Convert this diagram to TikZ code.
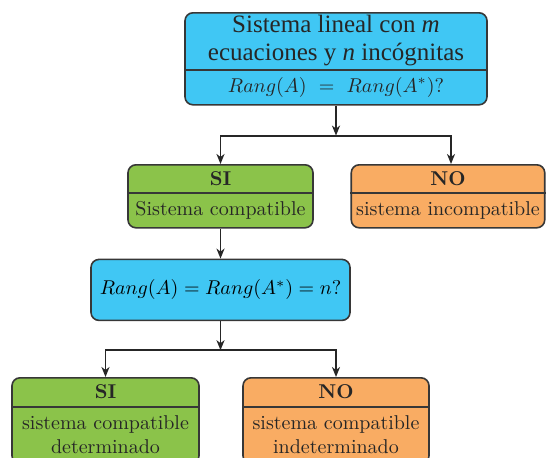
\documentclass[tikz,border=0pt]{standalone}
\usepackage{fontspec}
\usepackage{amsmath}
\usepackage{tikz}
\usetikzlibrary{positioning,arrows.meta}

\newfontfamily\titlefont{Liberation Serif}
\definecolor{skyblue}{RGB}{64,199,244}
\definecolor{leafgreen}{RGB}{139,195,74}
\definecolor{softorange}{RGB}{249,172,99}
\definecolor{edgegray}{RGB}{55,55,55}

\begin{document}
\begin{tikzpicture}[
			x=0.5pt, y=-0.5pt,
			block/.style={draw=edgegray, line width=0.8pt, rectangle, rounded corners=4pt, align=center},
			divider/.style={draw=edgegray, line width=0.8pt},
			label/.style={align=center, inner sep=0pt, text=black!85},
			arrow/.style={draw=black!85, line width=0.9pt, -{Stealth[length=5pt,width=4pt,inset=1.5pt]}}
			]
			
			% frame of the picture
			\clip (0,0) rectangle (546,457);
			
			% Question box
			\node[block, fill=skyblue, minimum width=151pt, minimum height=46pt, anchor=north] (sys) at (336,12) {};
			\draw[divider] ([shift={(0,58)}]sys.north west) -- ([shift={(0,58)}]sys.north east);
			\node[label, font=\titlefont\fontsize{12.5}{14}\selectfont] (sys_title) at ([shift={(0,29)}]sys.north) {Sistema lineal con \textit{m}\\ecuaciones y \textit{n} incógnitas};
			\node[label] (sys_rank) at ([shift={(0,75)}]sys.north) {$Rang(A)\ =\ Rang(A^*)?$};
			
			% First answers
			\node[block, fill=leafgreen, minimum width=92.5pt, minimum height=31.5pt, anchor=north] (si1) at (220.5,164) {};
			\draw[divider] ([shift={(0,29)}]si1.north west) -- ([shift={(0,29)}]si1.north east);
			\node[label, font=\bfseries] (si1_head) at ([shift={(0,14.5)}]si1.north) {SI};
			\node[label] (si1_text) at ([shift={(0,46)}]si1.north) {Sistema compatible};
			
			\node[block, fill=softorange, minimum width=96.75pt, minimum height=31.5pt, anchor=north] (no1) at (448,164) {};
			\draw[divider] ([shift={(0,29)}]no1.north west) -- ([shift={(0,29)}]no1.north east);
			\node[label, font=\bfseries] (no1_head) at ([shift={(0,14.5)}]no1.north) {NO};
			\node[label] (no1_text) at ([shift={(0,46)}]no1.north) {sistema incompatible};
			
			% Second question (under SI)
			\node[block, fill=skyblue, minimum width=129.5pt, minimum height=30.5pt, below=15pt of si1] (rk) {$Rang(A) = Rang(A^*) = n?$};
			
			% Second answers
			\node[block, fill=leafgreen, minimum width=93.5pt, minimum height=43pt, anchor=north] (si2) at (105.5,377) {};
			\draw[divider] ([shift={(0,30)}]si2.north west) -- ([shift={(0,30)}]si2.north east);
			\node[label, font=\bfseries] (si2_head) at ([shift={(0,15)}]si2.north) {SI};
			\node[label] (si2_text) at ([shift={(0,58)}]si2.north) {sistema compatible\\determinado};
			
			\node[block, fill=softorange, minimum width=93pt, minimum height=43pt, anchor=north] (no2) at (336,377) {};
			\draw[divider] ([shift={(0,30)}]no2.north west) -- ([shift={(0,30)}]no2.north east);
			\node[label, font=\bfseries] (no2_head) at ([shift={(0,15)}]no2.north) {NO};
			\node[label] (no2_text) at ([shift={(0,58)}]no2.north) {sistema compatible\\indeterminado};
			
			% Split points
			\coordinate (split1) at ([shift={(0,30)}]sys.south);
			\coordinate (split2) at ([shift={(0,29)}]rk.south);
			
			% Connections
			\draw[arrow] (sys.south) -- (split1);
			\draw[arrow] (split1) -| (si1.north);
			\draw[arrow] (split1) -| ([xshift=1.5pt]no1.north);
			\draw[arrow] (si1.south) -- (rk.north);
			\draw[arrow] (rk.south) -- (split2);
			\draw[arrow] (split2) -| (si2.north);
			\draw[arrow] (split2) -| (no2.north);
			
		\end{tikzpicture}
\end{document}
